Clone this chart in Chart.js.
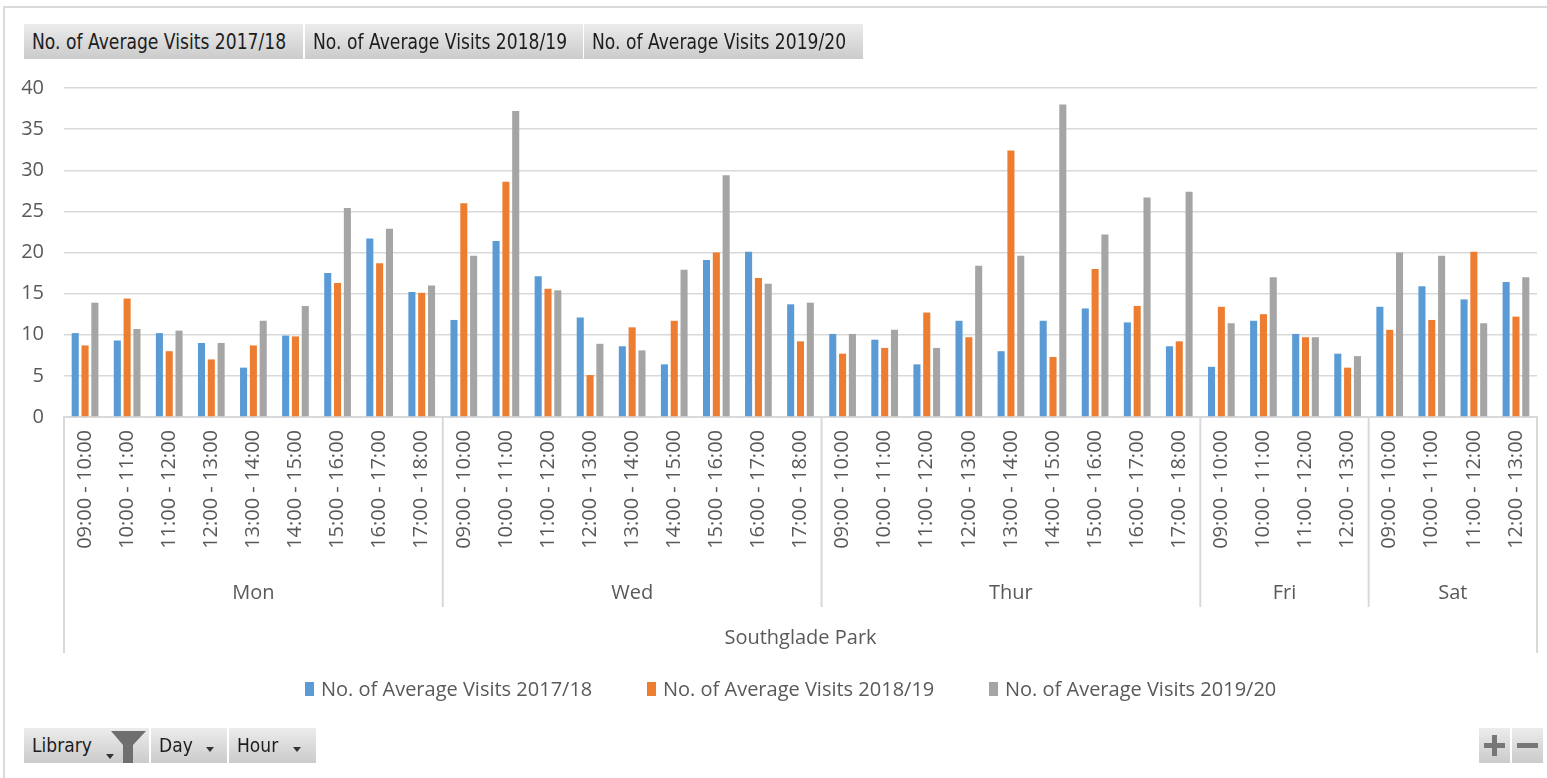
<!DOCTYPE html>
<html>
<head>
<meta charset="utf-8">
<script src="https://cdn.jsdelivr.net/npm/chart.js@4/dist/chart.umd.min.js"></script>
<style>
html,body{margin:0;padding:0;background:#fff;width:1547px;height:778px;overflow:hidden;}
#frame{position:absolute;left:3px;top:6px;width:1600px;height:800px;border-left:2px solid #dadada;border-top:2px solid #dadada;}
#c{position:absolute;left:0;top:0;}
.btn{position:absolute;height:35px;background:linear-gradient(#ececec,#cbcbcb);box-sizing:border-box;font-family:'DejaVu Sans';color:#1d1d1d;white-space:nowrap;overflow:hidden;}
.btn .t{position:absolute;left:8px;top:0;line-height:35px;transform-origin:0 50%;}
.top .t{font-size:22px;transform:scaleX(0.78);}
.bot .t{font-size:19px;transform:scaleX(0.9);}
.arrow{position:absolute;width:0;height:0;border-left:4px solid transparent;border-right:4px solid transparent;border-top:5px solid #333;}
#legend{position:absolute;left:0;top:0;font-family:'Open Sans';font-size:20px;color:#595959;}
.li{position:absolute;top:675px;height:28px;line-height:28px;white-space:nowrap;}
.li .sw{position:absolute;left:0;top:7px;width:9px;height:14px;}
.li .lt{position:absolute;left:16px;top:0;}
</style>
</head>
<body>
<div id="frame"></div>
<canvas id="c" width="1547" height="778"></canvas>

<div class="btn top" style="left:24px;top:24px;width:279px;"><span class="t">No. of Average Visits 2017/18</span></div>
<div class="btn top" style="left:305px;top:24px;width:278px;"><span class="t">No. of Average Visits 2018/19</span></div>
<div class="btn top" style="left:584px;top:24px;width:279px;"><span class="t">No. of Average Visits 2019/20</span></div>

<div id="legend"></div>

<div class="btn bot" style="left:24px;top:728px;width:125px;"><span class="t">Library</span>
  <div class="arrow" style="left:82px;top:26px;"></div>
  <svg style="position:absolute;left:0;top:0" width="125" height="35"><polygon points="87,3 122,3 109,17 109,35 99,35 99,17" fill="#6f6f6f"/></svg>
</div>
<div class="btn bot" style="left:151px;top:728px;width:76px;"><span class="t">Day</span><div class="arrow" style="left:55px;top:19px;"></div></div>
<div class="btn bot" style="left:229px;top:728px;width:87px;"><span class="t">Hour</span><div class="arrow" style="left:64px;top:19px;"></div></div>

<div class="btn" style="left:1479px;top:728px;width:31px;">
  <svg width="31" height="35"><rect x="5" y="15" width="21" height="5" fill="#777"/><rect x="13" y="7" width="5" height="21" fill="#777"/></svg>
</div>
<div class="btn" style="left:1512px;top:728px;width:31px;">
  <svg width="31" height="35"><rect x="5" y="15" width="21" height="5" fill="#777"/></svg>
</div>

<script>
// ---------- DATA ----------
const hours = [
  '09:00 - 10:00','10:00 - 11:00','11:00 - 12:00','12:00 - 13:00','13:00 - 14:00','14:00 - 15:00','15:00 - 16:00','16:00 - 17:00','17:00 - 18:00',
  '09:00 - 10:00','10:00 - 11:00','11:00 - 12:00','12:00 - 13:00','13:00 - 14:00','14:00 - 15:00','15:00 - 16:00','16:00 - 17:00','17:00 - 18:00',
  '09:00 - 10:00','10:00 - 11:00','11:00 - 12:00','12:00 - 13:00','13:00 - 14:00','14:00 - 15:00','15:00 - 16:00','16:00 - 17:00','17:00 - 18:00',
  '09:00 - 10:00','10:00 - 11:00','11:00 - 12:00','12:00 - 13:00',
  '09:00 - 10:00','10:00 - 11:00','11:00 - 12:00','12:00 - 13:00'
];
const days = [
  'Mon','Mon','Mon','Mon','Mon','Mon','Mon','Mon','Mon',
  'Wed','Wed','Wed','Wed','Wed','Wed','Wed','Wed','Wed',
  'Thur','Thur','Thur','Thur','Thur','Thur','Thur','Thur','Thur',
  'Fri','Fri','Fri','Fri',
  'Sat','Sat','Sat','Sat'
];
const library = 'Southglade Park';

const visits1718 = [
  10.2, 9.3, 10.2, 9.0, 6.0, 9.9, 17.5, 21.7, 15.2,
  11.8, 21.4, 17.1, 12.1, 8.6, 6.4, 19.1, 20.1, 13.7,
  10.1, 9.4, 6.4, 11.7, 8.0, 11.7, 13.2, 11.5, 8.6,
  6.1, 11.7, 10.1, 7.7,
  13.4, 15.9, 14.3, 16.4
];
const visits1819 = [
  8.7, 14.4, 8.0, 7.0, 8.7, 9.8, 16.3, 18.7, 15.1,
  26.0, 28.6, 15.6, 5.1, 10.9, 11.7, 20.0, 16.9, 9.2,
  7.7, 8.4, 12.7, 9.7, 32.4, 7.3, 18.0, 13.5, 9.2,
  13.4, 12.5, 9.7, 6.0,
  10.6, 11.8, 20.1, 12.2
];
const visits1920 = [
  13.9, 10.7, 10.5, 9.0, 11.7, 13.5, 25.4, 22.9, 16.0,
  19.6, 37.2, 15.4, 8.9, 8.1, 17.9, 29.4, 16.2, 13.9,
  10.1, 10.6, 8.4, 18.4, 19.6, 38.0, 22.2, 26.7, 27.4,
  11.4, 17.0, 9.7, 7.4,
  20.0, 19.6, 11.4, 17.0
];
const seriesNames = ['No. of Average Visits 2017/18','No. of Average Visits 2018/19','No. of Average Visits 2019/20'];
const seriesColors = ['#5B9BD5','#ED7D31','#A5A5A5'];
const yTicks = [0,5,10,15,20,25,30,35,40];

// ---------- LEGEND (HTML) ----------
const legendLeft = [305, 647, 989];
const legend = document.getElementById('legend');
seriesNames.forEach((n,i)=>{
  const d = document.createElement('div');
  d.className='li'; d.style.left = legendLeft[i]+'px';
  d.innerHTML = '<span class="sw" style="background:'+seriesColors[i]+'"></span><span class="lt">'+n+'</span>';
  legend.appendChild(d);
});

// ---------- GROUP AXIS PLUGIN ----------
const groupPlugin = {
  id:'groupAxis',
  afterDraw(chart){
    const ctx = chart.ctx, x = chart.scales.x;
    const step = x.getPixelForValue(1) - x.getPixelForValue(0);
    const edge = i => x.getPixelForValue(i) - step/2;
    const y0 = x.top;
    const runs = [];
    days.forEach((d,i)=>{
      if (!runs.length || runs[runs.length-1].label !== d) runs.push({label:d,start:i,end:i});
      else runs[runs.length-1].end = i;
    });
    ctx.save();
    ctx.strokeStyle = '#d9d9d9';
    ctx.lineWidth = 2;
    const left = edge(0), right = edge(days.length);
    ctx.beginPath();
    ctx.moveTo(left, y0); ctx.lineTo(left, y0 + 236);
    ctx.moveTo(right, y0); ctx.lineTo(right, y0 + 236);
    runs.forEach((r,k)=>{
      if (k>0){ const e = edge(r.start); ctx.moveTo(e, y0); ctx.lineTo(e, y0 + 190); }
    });
    ctx.stroke();
    ctx.fillStyle = '#595959';
    ctx.font = "20px 'Open Sans'";
    ctx.textAlign = 'center';
    ctx.textBaseline = 'middle';
    runs.forEach(r=>{
      const cx = (edge(r.start) + edge(r.end+1))/2;
      ctx.fillText(r.label, cx, y0 + 176);
    });
    ctx.fillText(library, (left+right)/2, y0 + 221);
    ctx.restore();
  }
};

Chart.defaults.font.family = "'Open Sans'";
Chart.defaults.font.size = 20;
Chart.defaults.color = '#595959';

new Chart(document.getElementById('c'), {
  type:'bar',
  data:{
    labels: hours,
    datasets:[
      {label:seriesNames[0], data:visits1718, backgroundColor:seriesColors[0]},
      {label:seriesNames[1], data:visits1819, backgroundColor:seriesColors[1]},
      {label:seriesNames[2], data:visits1920, backgroundColor:seriesColors[2]}
    ]
  },
  options:{
    responsive:false,
    animation:false,
    devicePixelRatio:1,
    layout:{padding:{top:88,left:0,right:10,bottom:151}},
    datasets:{bar:{categoryPercentage:0.7, barPercentage:0.72, borderWidth:0}},
    plugins:{legend:{display:false}, tooltip:{enabled:false}},
    scales:{
      x:{
        grid:{display:false, drawTicks:false},
        border:{display:true, color:'#d9d9d9', width:2},
        ticks:{autoSkip:false, minRotation:90, maxRotation:90, padding:13, color:'#595959', font:{size:20}},
        afterFit(s){ s.height = 210; s.paddingLeft = 0; s.paddingRight = 0; }
      },
      y:{
        min:0, max:40,
        afterBuildTicks(s){ s.ticks = yTicks.map(v=>({value:v})); },
        ticks:{padding:20, color:'#595959', font:{size:20}},
        grid:{color:'#d9d9d9', lineWidth:1.5, drawTicks:false},
        border:{display:false},
        afterFit(s){ s.width = 64; }
      }
    }
  },
  plugins:[groupPlugin]
});
</script>
</body>
</html>
